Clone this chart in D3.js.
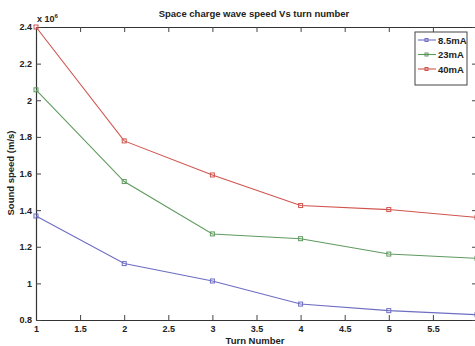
<!DOCTYPE html>
<html>
<head>
<meta charset="utf-8">
<script src="https://cdn.jsdelivr.net/npm/d3@7"></script>
<style>
  body { margin: 0; background: #fff; }
  text { font-family: "Liberation Sans", Arial, sans-serif; font-weight: bold; fill: #222; }
</style>
</head>
<body>
<div id="container"></div>
<script>
let w = 475;
let h = 346;

// data (speeds in units of 1e6 m/s)
let turns = [1, 2, 3, 4, 5, 6];
let speed85 = [1.368, 1.108, 1.013, 0.887, 0.851, 0.829];
let speed23 = [2.057, 1.556, 1.270, 1.244, 1.160, 1.137];
let speed40 = [2.400, 1.778, 1.592, 1.425, 1.403, 1.360];
let seriesNames = ["8.5mA", "23mA", "40mA"];
let seriesColors = ["#6d6dc2", "#5f9a5f", "#d0544e"];
let xTicks = [1, 1.5, 2, 2.5, 3, 3.5, 4, 4.5, 5, 5.5, 6];
let yTicks = [0.8, 1, 1.2, 1.4, 1.6, 1.8, 2, 2.2, 2.4];

let allSeries = [speed85, speed23, speed40];

let viz = d3.select("#container")
  .append("svg")
  .attr("width", w)
  .attr("height", h)
  .style("background-color", "white");

let padLeft = 36, padRight = 477, padTop = 27, padBottom = 320;

let xScale = d3.scaleLinear().domain([1, 6]).range([padLeft, padRight]);
let yScale = d3.scaleLinear().domain([0.8, 2.4]).range([padBottom, padTop]);

// axes, matlab style with inward ticks on all four sides
let fmt = d => String(d);
viz.append("g").attr("transform", "translate(0," + padBottom + ")")
  .call(d3.axisBottom(xScale).tickValues(xTicks).tickFormat(fmt).tickSizeInner(-5).tickSizeOuter(0).tickPadding(6));
viz.append("g").attr("transform", "translate(0," + padTop + ")")
  .call(d3.axisTop(xScale).tickValues(xTicks).tickFormat("").tickSizeInner(-5).tickSizeOuter(0));
viz.append("g").attr("transform", "translate(" + padLeft + ",0)")
  .call(d3.axisLeft(yScale).tickValues(yTicks).tickFormat(fmt).tickSizeInner(-5).tickSizeOuter(0).tickPadding(4));
viz.append("g").attr("transform", "translate(" + padRight + ",0)")
  .call(d3.axisRight(yScale).tickValues(yTicks).tickFormat("").tickSizeInner(-5).tickSizeOuter(0));

viz.selectAll(".domain").attr("stroke", "#333").attr("stroke-width", 1.2);
viz.selectAll(".tick line").attr("stroke", "#444");
viz.selectAll(".tick text").style("font-size", "9px").style("font-weight", "bold").attr("fill", "#222");

// exponent label
let expo = viz.append("text").attr("x", 37).attr("y", 22).style("font-size", "9px");
expo.append("tspan").text("x 10");
expo.append("tspan").attr("dy", -4).style("font-size", "6px").text("6");

// title and axis labels
viz.append("text").attr("x", 254).attr("y", 17).attr("text-anchor", "middle")
  .style("font-size", "9.5px").text("Space charge wave speed Vs turn number");
viz.append("text").attr("x", 255).attr("y", 344).attr("text-anchor", "middle")
  .style("font-size", "9.5px").text("Turn Number");
viz.append("text").attr("transform", "translate(14," + 173 + ") rotate(-90)")
  .attr("text-anchor", "middle").style("font-size", "9.5px").text("Sound speed (m/s)");

// lines
let line = d3.line().x((d, i) => xScale(turns[i])).y(d => yScale(d));

let dataGroups = viz.selectAll(".series").data(allSeries).enter()
  .append("g").attr("class", "series");

dataGroups.append("path")
  .attr("d", d => line(d))
  .attr("fill", "none")
  .attr("stroke", (d, i) => seriesColors[i])
  .attr("stroke-width", 1.1);

dataGroups.each(function (d, i) {
  d3.select(this).selectAll("rect").data(d).enter()
    .append("rect")
    .attr("x", (v, j) => xScale(turns[j]) - 2)
    .attr("y", v => yScale(v) - 2)
    .attr("width", 4)
    .attr("height", 4)
    .attr("fill", "none")
    .attr("stroke", seriesColors[i])
    .attr("stroke-width", 1);
});

// legend
let legend = viz.append("g").attr("transform", "translate(415,32)");
legend.append("rect").attr("width", 52).attr("height", 53)
  .attr("fill", "white").attr("stroke", "#444").attr("stroke-width", 1);
seriesNames.forEach(function (name, i) {
  let y = 8 + i * 14.5;
  legend.append("line").attr("x1", 3).attr("x2", 21).attr("y1", y).attr("y2", y)
    .attr("stroke", seriesColors[i]).attr("stroke-width", 1.1);
  legend.append("rect").attr("x", 10).attr("y", y - 1.5).attr("width", 3).attr("height", 3)
    .attr("fill", "none").attr("stroke", seriesColors[i]);
  legend.append("text").attr("x", 23).attr("y", y + 3.5).style("font-size", "9.5px").text(name);
});
</script>
</body>
</html>
